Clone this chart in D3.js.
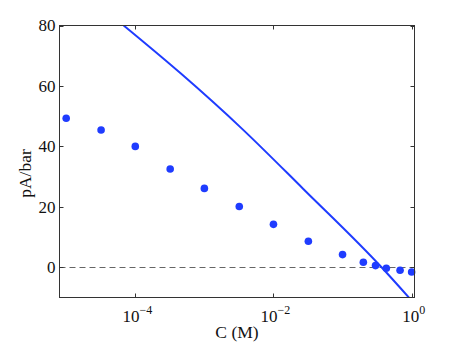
<!DOCTYPE html>
<html>
<head>
<meta charset="utf-8">
<script src="https://cdn.jsdelivr.net/npm/d3@7"></script>
<style>
  html, body { margin: 0; padding: 0; background: #fff; }
  svg { display: block; }
  text { font-family: "Liberation Serif", "DejaVu Serif", serif; fill: #111; }
</style>
</head>
<body>
<svg id="chart" width="457" height="343"></svg>
<script>
// ---- data ----
const concM   = [1e-5, 3.2e-5, 1e-4, 3.2e-4, 1e-3, 3.2e-3, 1e-2, 3.2e-2, 0.1, 0.2, 0.3, 0.43, 0.68, 1.0];
const measured = [49.3, 45.4, 40.0, 32.5, 26.1, 20.1, 14.2, 8.6, 4.2, 1.65, 0.55, -0.33, -1.0, -1.55];
const modelC  = [6.78e-5, 4.62e-4, 3.52e-3, 2.68e-2, 0.367, 0.912];
const modelV  = [80, 64, 45.8, 26.0, 0, -10];
const xTicks  = [1e-4, 1e-2, 1];
const xTickExp = ["\u22124", "\u22122", "0"];
const yTicks  = [0, 20, 40, 60, 80];
const xLabel = "C (M)";
const yLabel = "pA/bar";

// ---- layout ----
const svg = d3.select("#chart");
const L = 59.5, R = 414.5, T = 25.5, B = 297.5;
const blue = "#1f3cff";

const x = d3.scaleLog().domain([8e-6, 1.1]).range([L, R]);
const y = d3.scaleLinear().domain([-10, 80]).range([B, T]);

svg.append("defs").append("clipPath").attr("id", "clip")
  .append("rect").attr("x", L).attr("y", T).attr("width", R - L).attr("height", B - T);

// zero dashed line
svg.append("line")
  .attr("x1", L).attr("x2", R)
  .attr("y1", Math.round(y(0)) + 0.5).attr("y2", Math.round(y(0)) + 0.5)
  .attr("stroke", "#666").attr("stroke-width", 1)
  .attr("stroke-dasharray", "6,4");

// model curve
const line = d3.line()
  .x((d, i) => x(modelC[i]))
  .y((d, i) => y(modelV[i]))
  .curve(d3.curveMonotoneX);
svg.append("path")
  .datum(modelV)
  .attr("clip-path", "url(#clip)")
  .attr("d", line)
  .attr("fill", "none")
  .attr("stroke", blue)
  .attr("stroke-width", 2);

// measured points
svg.append("g").selectAll("circle")
  .data(measured)
  .join("circle")
  .attr("cx", (d, i) => x(concM[i]))
  .attr("cy", d => y(d))
  .attr("r", 3.8)
  .attr("fill", blue);

// axes box
const axisColor = "#333";
svg.append("rect")
  .attr("x", L).attr("y", T).attr("width", R - L).attr("height", B - T)
  .attr("fill", "none").attr("stroke", axisColor).attr("stroke-width", 1);

const tickLen = 4;
const xt = svg.append("g");
xTicks.forEach(v => {
  const px = Math.round(x(v)) + 0.5;
  xt.append("line").attr("x1", px).attr("x2", px).attr("y1", B).attr("y2", B - tickLen).attr("stroke", axisColor);
  xt.append("line").attr("x1", px).attr("x2", px).attr("y1", T).attr("y2", T + tickLen).attr("stroke", axisColor);
});
const yt = svg.append("g");
yTicks.forEach(v => {
  const py = Math.round(y(v)) + 0.5;
  yt.append("line").attr("x1", L).attr("x2", L + tickLen).attr("y1", py).attr("y2", py).attr("stroke", axisColor);
  yt.append("line").attr("x1", R).attr("x2", R - tickLen).attr("y1", py).attr("y2", py).attr("stroke", axisColor);
});

// y tick labels
svg.append("g").selectAll("text")
  .data(yTicks)
  .join("text")
  .attr("x", L - 4)
  .attr("y", d => y(d))
  .attr("dy", "0.35em")
  .attr("text-anchor", "end")
  .attr("font-size", 17)
  .text(d => d);

// x tick labels with superscript exponents
xTicks.forEach((v, i) => {
  const t = svg.append("text")
    .attr("x", x(v) + 2)
    .attr("y", 322)
    .attr("text-anchor", "middle")
    .attr("font-size", 17);
  t.append("tspan").text("10");
  t.append("tspan").attr("dy", -8).attr("font-size", 12).text(xTickExp[i]);
});

// axis labels
svg.append("text")
  .attr("x", (L + R) / 2)
  .attr("y", 338)
  .attr("text-anchor", "middle")
  .attr("font-size", 17.5)
  .text(xLabel);

svg.append("text")
  .attr("transform", `translate(31, ${(T + B) / 2 + 12}) rotate(-90)`)
  .attr("text-anchor", "middle")
  .attr("font-size", 17.5)
  .text(yLabel);
</script>
</body>
</html>
